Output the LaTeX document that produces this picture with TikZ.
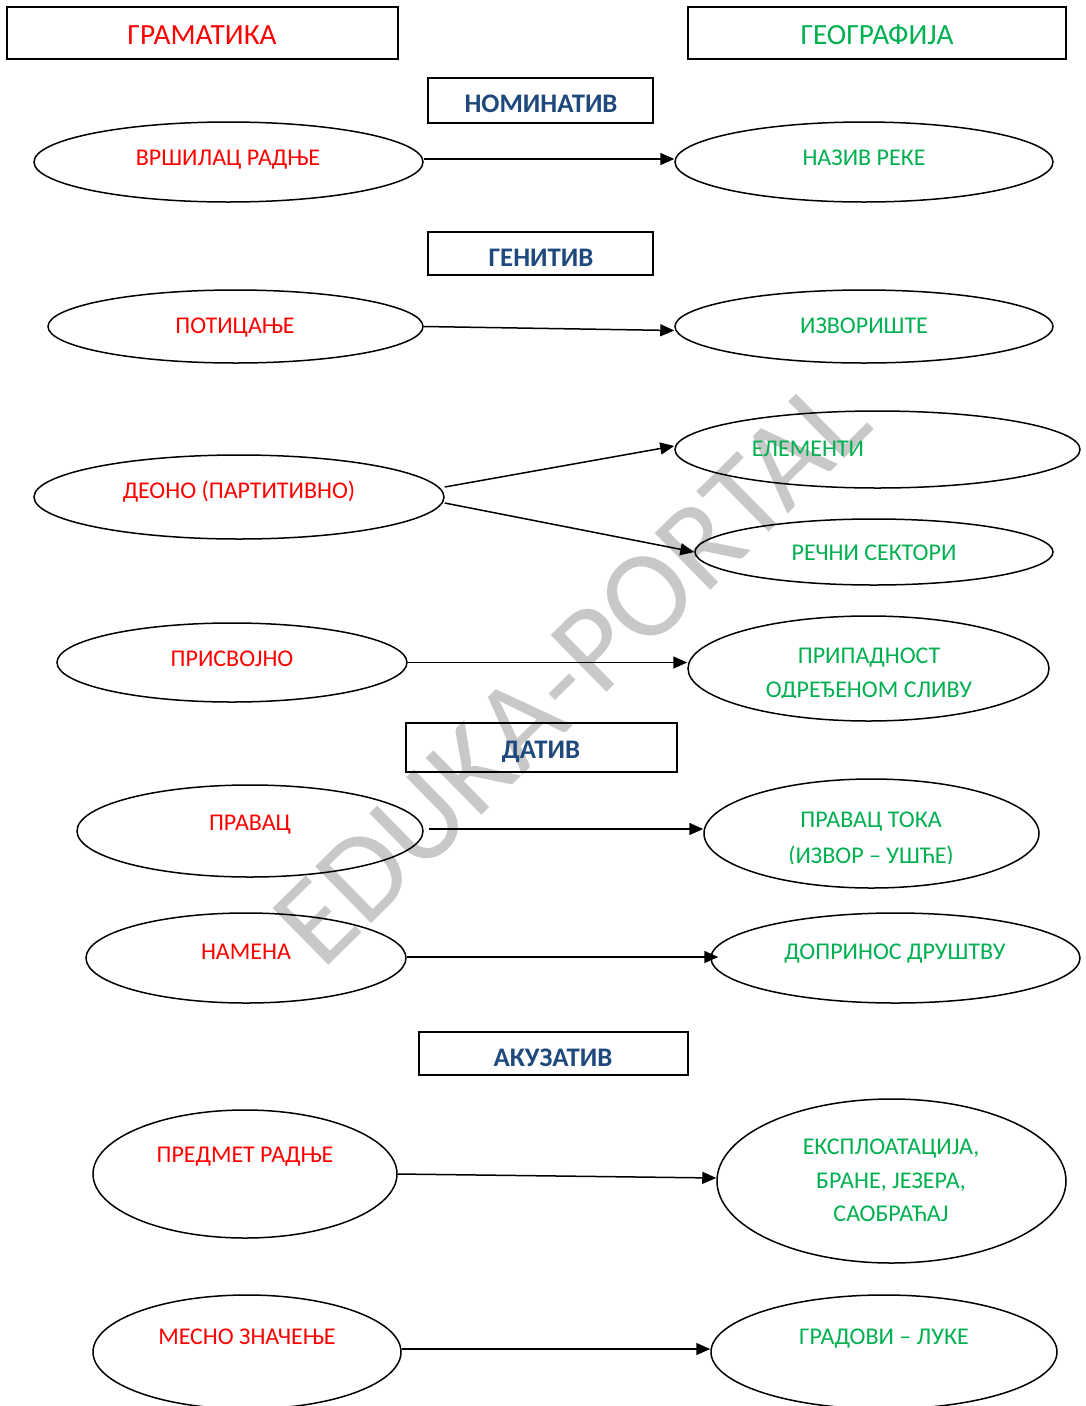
\documentclass[tikz,border=0pt]{standalone}
\usepackage{fontspec}
\setmainfont{Carlito}
\usetikzlibrary{shapes.geometric,arrows.meta,calc}
\definecolor{gred}{RGB}{255,0,0}
\definecolor{ggreen}{RGB}{0,176,80}
\definecolor{gblue}{RGB}{31,73,125}
\definecolor{wmgray}{RGB}{200,200,200}
\begin{document}
\begin{tikzpicture}[x=1pt,y=-1pt,
  oval/.style={ellipse, draw, line width=1.5pt, inner sep=0pt},
  frame/.style={draw, line width=1.6pt, inner sep=0pt},
  arr/.style={line width=1.5pt, -{Triangle[length=14pt,width=12pt]}},
  lt/.style={text=gred, font=\fontsize{24}{28}\selectfont, inner sep=0pt, text height=15.5pt, text depth=0pt},
  rt/.style={text=ggreen, font=\fontsize{24}{28}\selectfont, inner sep=0pt, text height=15.5pt, text depth=0pt},
  ht/.style={font=\fontsize{29.3}{33}\selectfont, inner sep=0pt, text height=18.9pt, text depth=0pt},
  ct/.style={text=gblue, font=\bfseries\fontsize{26.8}{30}\selectfont, inner sep=0pt, text height=17.3pt, text depth=0pt},
  wmtext/.style={text=wmgray, font=\fontsize{124}{128}\selectfont, inner sep=0pt}
]
\path[use as bounding box, clip] (0,0) rectangle (1086,1406);
\fill[white] (0,0) rectangle (1086,1406);

% watermark
\node[wmtext, rotate=44.5, anchor=base west] (wmk) at (322,972) {EDUKA-PORTAL};

% headers
\node[frame, minimum width=391pt, minimum height=52pt] (h1) at (202.5,33) {};
\node[ht, text=gred] (h1t) at (202,35) {ГРАМАТИКА};
\node[frame, minimum width=378pt, minimum height=52pt] (h2) at (877,33) {};
\node[ht, text=ggreen] (h2t) at (877,35) {ГЕОГРАФИЈА};

% case boxes
\node[frame, minimum width=225pt, minimum height=45pt] (b1) at (540.5,100.5) {};
\node[ct] (b1t) at (541,104) {НОМИНАТИВ};
\node[frame, minimum width=225pt, minimum height=43pt] (b2) at (540.5,253.5) {};
\node[ct] (b2t) at (541,258) {ГЕНИТИВ};
\node[frame, minimum width=271pt, minimum height=49pt] (b3) at (541.5,747.5) {};
\node[ct] (b3t) at (541,750) {ДАТИВ};
\node[frame, minimum width=269pt, minimum height=43pt] (b4) at (553.5,1053.5) {};
\node[ct] (b4t) at (553,1058) {АКУЗАТИВ};

% left ellipses
\node[oval, minimum width=389pt, minimum height=80pt] (l1) at (228.5,162) {};
\node[lt] (l1t) at (228,158) {ВРШИЛАЦ РАДЊЕ};
\node[oval, minimum width=375pt, minimum height=73pt] (l2) at (235.5,326.5) {};
\node[lt] (l2t) at (235,326) {ПОТИЦАЊЕ};
\node[oval, minimum width=410pt, minimum height=84pt] (l3) at (239,497) {};
\node[lt] (l3t) at (239,491) {ДЕОНО (ПАРТИТИВНО)};
\node[oval, minimum width=350pt, minimum height=79pt] (l4) at (232,662.5) {};
\node[lt] (l4t) at (232,659) {ПРИСВОЈНО};
\node[oval, minimum width=346pt, minimum height=92pt] (l5) at (250,831) {};
\node[lt] (l5t) at (250,823) {ПРАВАЦ};
\node[oval, minimum width=320pt, minimum height=90pt] (l6) at (246,958) {};
\node[lt] (l6t) at (246,952) {НАМЕНА};
\node[oval, minimum width=304pt, minimum height=128pt] (l7) at (245,1174) {};
\node[lt] (l7t) at (245,1155) {ПРЕДМЕТ РАДЊЕ};
\node[oval, minimum width=308pt, minimum height=114pt] (l8) at (247,1352) {};
\node[lt] (l8t) at (247,1337) {МЕСНО ЗНАЧЕЊЕ};

% right ellipses
\node[oval, minimum width=378pt, minimum height=80pt] (r1) at (864,162) {};
\node[rt] (r1t) at (864,158) {НАЗИВ РЕКЕ};
\node[oval, minimum width=378pt, minimum height=73pt] (r2) at (864,326.5) {};
\node[rt] (r2t) at (864,326) {ИЗВОРИШТЕ};
\node[oval, minimum width=405pt, minimum height=77pt] (r3) at (877.5,449.5) {};
\node[rt] (r3t) at (808,449) {ЕЛЕМЕНТИ};
\node[oval, minimum width=358pt, minimum height=66pt] (r4) at (874,552) {};
\node[rt] (r4t) at (874,553) {РЕЧНИ СЕКТОРИ};
\node[oval, minimum width=361pt, minimum height=105pt] (r5) at (868.5,668.5) {};
\node[rt] (r5a) at (869,656) {ПРИПАДНОСТ};
\begin{scope}
\clip (700,600) rectangle (1060,697);
\node[rt] (r5b) at (869,690) {ОДРЕЂЕНОМ СЛИВУ};
\end{scope}
\node[oval, minimum width=335pt, minimum height=109pt] (r6) at (871.5,833.5) {};
\node[rt] (r6a) at (871,820) {ПРАВАЦ ТОКА};
\begin{scope}
\clip (700,780) rectangle (1060,863);
\node[rt] (r6b) at (871,856) {(ИЗВОР – УШЋЕ)};
\end{scope}
\node[oval, minimum width=369pt, minimum height=90pt] (r7) at (895.5,958) {};
\node[rt] (r7t) at (895,952) {ДОПРИНОС ДРУШТВУ};
\node[oval, minimum width=349pt, minimum height=164pt] (r8) at (891.5,1181) {};
\node[rt] (r8a) at (891,1147) {ЕКСПЛОАТАЦИЈА,};
\node[rt] (r8b) at (891,1181) {БРАНЕ, ЈЕЗЕРА,};
\node[rt] (r8c) at (891,1214) {САОБРАЋАЈ};
\node[oval, minimum width=346pt, minimum height=114pt] (r9) at (884,1352) {};
\node[rt] (r9t) at (884,1337) {ГРАДОВИ – ЛУКЕ};

% arrows
\draw[arr] ([yshift=3pt]l1.east) -- ([yshift=3pt]r1.west);
\draw[arr] (l2.east) -- ([yshift=-4pt]r2.west);
\draw[arr] ([yshift=10pt]l3.east) -- ([yshift=3.5pt]r3.west);
\draw[arr] ([yshift=-6pt]l3.east) -- (r4.west);
\draw[arr] (l4.east) -- (l4.east -| r5.west);
\draw[arr] ($(l5.east)+(5,-2)$) -- ($(l5.east -| r6.west)+(0,-2)$);
\draw[arr] ($(l6.east)+(0,-1)$) -- ($(l6.east -| r7.west)+(8,-1)$);
\draw[arr] (l7.east) -- ([yshift=3pt]r8.west);
\draw[arr] ($(l8.east)+(0,-3)$) -- ($(l8.east -| r9.west)+(0,-3)$);
\end{tikzpicture}
\end{document}
